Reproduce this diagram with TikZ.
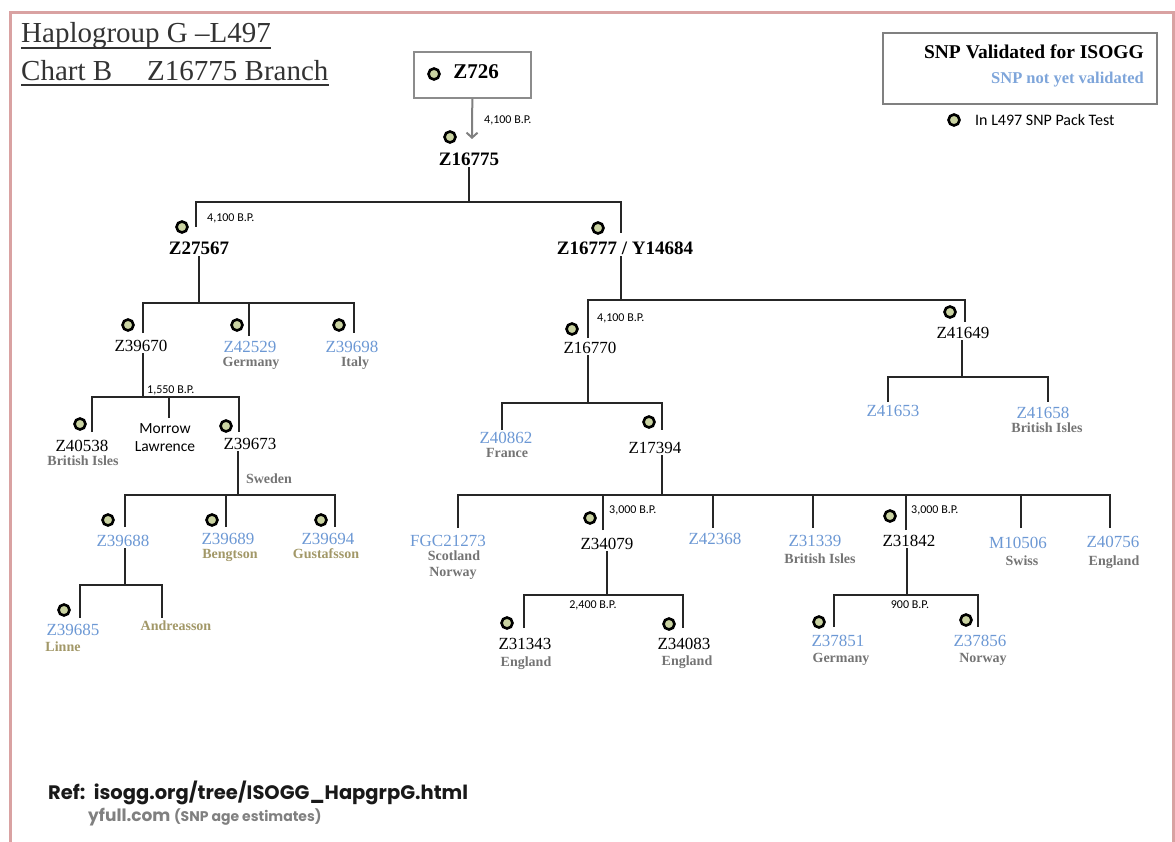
\documentclass[tikz,border=0pt]{standalone}
\usepackage{fontspec}
\setmainfont{Liberation Serif}
\setsansfont{Carlito}
\newfontfamily\reffont{Poppins}
\usetikzlibrary{arrows.meta,positioning}
\definecolor{newblue}{HTML}{6C98D4}
\definecolor{legendblue}{HTML}{7EA5DA}
\definecolor{placegray}{HTML}{747474}
\definecolor{surnamebrown}{HTML}{A29868}
\definecolor{packgreen}{HTML}{CAD3A2}
\definecolor{framepink}{HTML}{D9A2A2}
\tikzset{snp/.style={inner sep=1.5pt,text height=0.68em,text depth=0pt,font=\fontsize{17}{19}\selectfont},
         main snp/.style={snp,font=\bfseries\fontsize{19}{21}\selectfont},
         new snp/.style={snp,text=newblue},
         place/.style={inner sep=0pt,text height=0.7em,text depth=0.2em,text=placegray,font=\bfseries\fontsize{14}{16}\selectfont},
         surname/.style={place,text=surnamebrown},
         pack/.style={circle,draw=black,fill=packgreen,line width=2.6pt,minimum size=11pt,inner sep=0pt},
         age/.style={anchor=west,inner sep=0pt,font=\sffamily\fontsize{12}{14}\selectfont},
         branch/.style={line width=1.5pt,draw=black!85}
}
\begin{document}
\begin{tikzpicture}[x=1pt,y=-1pt,
heading/.style={anchor=base west,inner sep=0pt,text=black!80,font=\fontsize{29}{31}\selectfont}]
\useasboundingbox (0,0) rectangle (1175,842);
\draw[framepink,line width=3pt] (10,842) -- (10,13) -- (1173,13) -- (1173,842);
% \draw[help lines,step=50] (0,0) grid (1175,842);
\node[heading] (title) at (21,43) {Haplogroup G --L497};
\node[heading] (chart) at (21,81) {Chart B};
\node[heading] (branchname) at (147,81) {Z16775 Branch};
\draw[line width=1.2pt,black!80] ([yshift=-5pt]title.base west) -- ([yshift=-5pt]title.base east);
\draw[line width=1.2pt,black!80] ([yshift=-4pt]chart.base west) -- ([yshift=-4pt]branchname.base east);

\node[draw=black!45,line width=1.3pt,minimum width=117pt,minimum height=46pt] (z726box) at (472.5,75) {};
\node[pack] (z726d) at (434,74) {};
\node[snp,font=\bfseries\fontsize{21}{23}\selectfont] (z726) at (476,75) {Z726};
\node[pack] (legendd) at (954,120) {};
\node[anchor=west,inner sep=0pt,font=\sffamily\fontsize{16}{18}\selectfont] (packtest) at (975,120) {In L497 SNP Pack Test};
\node[draw=black!50,line width=1.2pt,minimum width=274pt,minimum height=71pt] (legend) at (1020,68.5) {};
\node[anchor=east,inner sep=0pt,font=\bfseries\fontsize{19.5}{21}\selectfont] (valid) at (1144,52) {SNP Validated for ISOGG};
\node[anchor=east,inner sep=0pt,text=legendblue,font=\bfseries\fontsize{16.5}{18}\selectfont] (notvalid) at (1144,80) {SNP not yet validated};

\coordinate (z16775u) at (472,139);
\draw[gray,line width=2pt,-{Straight Barb[length=5pt,width=11pt]}] (z726box) -- (z16775u);
\node[age] (age1) at (484,120) {4,100 B.P.};
\node[pack] (z16775d) at (450,137) {};
\node[main snp] (z16775) at (469,162) {Z16775};

\coordinate (j1) at (469,202);
\coordinate (z27567u) at (196,227);
\coordinate (z16777u) at (621,233);
\draw[branch] (z16775) -- (j1);
\draw[branch] (z27567u) |- (j1) -| (z16777u);
\node[age] (age2) at (207,218) {4,100 B.P.};
\node[pack] (z27567d) at (182,227) {};
\node[main snp] (z27567) at (199,251) {Z27567};
\node[pack] (z16777d) at (598,228) {};
\node[main snp] (z16777) at (625,251) {Z16777 / Y14684};

% left side
\coordinate (j2) at (199,303);
\coordinate (z39670u) at (143,333);
\coordinate (z42529u) at (249,336);
\coordinate (z39698u) at (354,333);
\draw[branch] (z27567) -- (j2);
\draw[branch] (z39670u) |- (j2) -| (z39698u);
\draw[branch] (z42529u) -- (z42529u |- j2);
\node[pack] (z39670d) at (128,325) {};
\node[snp] (z39670) at (141,348) {Z39670};
\node[pack] (z42529d) at (237,325) {};
\node[new snp] (z42529) at (250,349) {Z42529};
\node[place] (germany1) at (251,364) {Germany};
\node[pack] (z39698d) at (339,325) {};
\node[new snp] (z39698) at (352,349) {Z39698};
\node[place] (italy) at (355,364) {Italy};

\coordinate (j3) at (143,397);
\coordinate (z40538u) at (92,432);
\coordinate (morrowu) at (169,418);
\coordinate (z39673u) at (239,432);
\draw[branch] (z39670.south -| j3) -- (j3);
\draw[branch] (z40538u) |- (j3) -| (z39673u);
\draw[branch] (morrowu) -- (morrowu |- j3);
\node[age] (age3) at (147,390) {1,550 B.P.};
\node[pack] (z40538d) at (80,424) {};
\node[snp] (z40538) at (82,448) {Z40538};
\node[place] (isles1) at (83,463) {British Isles};
\node[align=center,inner sep=0pt,font=\sffamily\fontsize{15.5}{18}\selectfont] (morrow) at (165,438) {Morrow\\Lawrence};
\node[pack] (z39673d) at (226,426) {};
\node[snp] (z39673) at (250,446) {Z39673};

\coordinate (j4) at (238,495);
\coordinate (z39688u) at (125,527);
\coordinate (z39689u) at (226,527);
\coordinate (z39694u) at (335,527);
\draw[branch] (z39673.south -| j4) -- (j4);
\draw[branch] (z39688u) |- (j4) -| (z39694u);
\draw[branch] (z39689u) -- (z39689u |- j4);
\node[place] (sweden) at (269,481) {Sweden};
\node[pack] (z39688d) at (108,520) {};
\node[new snp] (z39688) at (123,543) {Z39688};
\node[pack] (z39689d) at (212,520) {};
\node[new snp] (z39689) at (228,541) {Z39689};
\node[surname] (bengtson) at (230,556) {Bengtson};
\node[pack] (z39694d) at (321,520) {};
\node[new snp] (z39694) at (328,541) {Z39694};
\node[surname] (gustafsson) at (326,556) {Gustafsson};

\coordinate (j5) at (125,585);
\coordinate (z39685u) at (80,618);
\coordinate (andreassonu) at (162,618);
\draw[branch] (z39688.south -| j5) -- (j5);
\draw[branch] (z39685u) |- (j5) -| (andreassonu);
\node[pack] (z39685d) at (64,610) {};
\node[new snp] (z39685) at (73,632) {Z39685};
\node[surname] (linne) at (63,649) {Linne};
\node[surname] (andreasson) at (176,628) {Andreasson};

% right side
\coordinate (j6) at (621,300);
\coordinate (z16770u) at (588,338);
\coordinate (z41649u) at (965,322);
\draw[branch] (z16777.south -| j6) -- (j6);
\draw[branch] (z16770u) |- (j6) -| (z41649u);
\node[age] (age4) at (597,318) {4,100 B.P.};
\node[pack] (z16770d) at (572,329) {};
\node[snp] (z16770) at (590,350) {Z16770};
\node[pack] (z41649d) at (950,312) {};
\node[snp] (z41649) at (963,335) {Z41649};

\coordinate (j7) at (588,403);
\coordinate (z40862u) at (502,430);
\coordinate (z17394u) at (662,430);
\draw[branch] (z16770.south -| j7) -- (j7);
\draw[branch] (z40862u) |- (j7) -| (z17394u);
\node[new snp] (z40862) at (506,440) {Z40862};
\node[place] (france) at (507,455) {France};
\node[pack] (z17394d) at (649,422) {};
\node[snp] (z17394) at (655,450) {Z17394};

\coordinate (j8) at (962,377);
\coordinate (z41653u) at (888,402);
\coordinate (z41658u) at (1048,402);
\draw[branch] (z41649.south -| j8) -- (j8);
\draw[branch] (z41653u) |- (j8) -| (z41658u);
\node[new snp] (z41653) at (893,413) {Z41653};
\node[new snp] (z41658) at (1043,415) {Z41658};
\node[place] (isles2) at (1047,430) {British Isles};

\coordinate (j9) at (662,495);
\coordinate (fgcu) at (458,528);
\coordinate (z34079u) at (603,530);
\coordinate (z42368u) at (713,528);
\coordinate (z31339u) at (813,528);
\coordinate (z31842u) at (906,530);
\coordinate (m10506u) at (1021,528);
\coordinate (z40756u) at (1110,528);
\draw[branch] (z17394.south -| j9) -- (j9);
\draw[branch] (fgcu) |- (j9) -| (z40756u);
\draw[branch] (z34079u) -- (z34079u |- j9);
\draw[branch] (z42368u) -- (z42368u |- j9);
\draw[branch] (z31339u) -- (z31339u |- j9);
\draw[branch] (z31842u) -- (z31842u |- j9);
\draw[branch] (m10506u) -- (m10506u |- j9);
\node[age] (age5) at (609,510) {3,000 B.P.};
\node[age] (age6) at (911,510) {3,000 B.P.};
\node[new snp] (fgc21273) at (448,543) {FGC21273};
\node[place] (scotland) at (454,558) {Scotland};
\node[place] (norway1) at (453,574) {Norway};
\node[pack] (z34079d) at (590,518) {};
\node[snp] (z34079) at (607,546) {Z34079};
\node[new snp] (z42368) at (715,541) {Z42368};
\node[new snp] (z31339) at (815,543) {Z31339};
\node[place] (isles3) at (820,561) {British Isles};
\node[pack] (z31842d) at (890,516) {};
\node[snp] (z31842) at (909,543) {Z31842};
\node[new snp] (m10506) at (1018,545) {M10506};
\node[place] (swiss) at (1022,563) {Swiss};
\node[new snp] (z40756) at (1113,544) {Z40756};
\node[place] (england1) at (1114,563) {England};

\coordinate (j10) at (607,595);
\coordinate (z31343u) at (524,628);
\coordinate (z34083u) at (683,628);
\draw[branch] (z34079.south -| j10) -- (j10);
\draw[branch] (z31343u) |- (j10) -| (z34083u);
\node[age,anchor=center] (age7) at (593,605) {2,400 B.P.};
\node[pack] (z31343d) at (507,623) {};
\node[snp] (z31343) at (525,646) {Z31343};
\node[place] (england2) at (526,664) {England};
\node[pack] (z34083d) at (669,624) {};
\node[snp] (z34083) at (684,646) {Z34083};
\node[place] (england3) at (687,663) {England};

\coordinate (j11) at (907,595);
\coordinate (z37851u) at (834,627);
\coordinate (z37856u) at (978,627);
\draw[branch] (z31842.south -| j11) -- (j11);
\draw[branch] (z37851u) |- (j11) -| (z37856u);
\node[age,anchor=center] (age8) at (910,605) {900 B.P.};
\node[pack] (z37851d) at (819,622) {};
\node[new snp] (z37851) at (838,643) {Z37851};
\node[place] (germany2) at (841,660) {Germany};
\node[pack] (z37856d) at (966,620) {};
\node[new snp] (z37856) at (980,643) {Z37856};
\node[place] (norway2) at (983,660) {Norway};

\node[anchor=west,inner sep=0pt,text=black!90,font=\reffont\bfseries\fontsize{19.5}{21}\selectfont] (ref) at (48,793) {Ref:\ \ isogg.org/tree/ISOGG\_HapgrpG.html};
\node[anchor=west,inner sep=0pt,text=black!50,font=\reffont\bfseries\fontsize{17}{19}\selectfont] (yfull) at (88,817) {yfull.com {\fontsize{14}{16}\selectfont(SNP age estimates)}};
\end{tikzpicture}
\end{document}
